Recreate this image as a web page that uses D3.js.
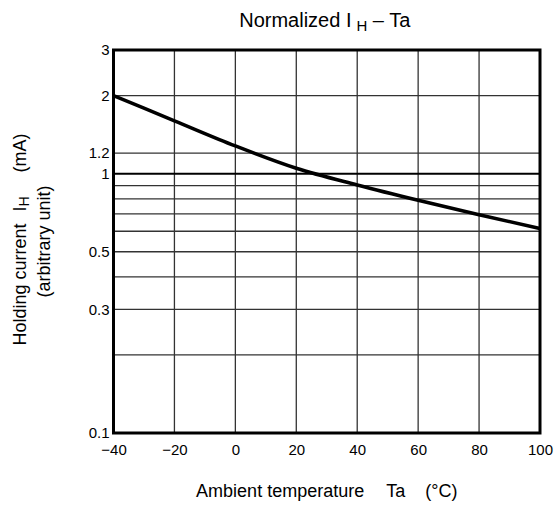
<!DOCTYPE html>
<html>
<head>
	<meta charset="utf-8">
	<title></title>
	<script src="https://d3js.org/d3.v7.min.js"></script>
	<style>
		body {
			margin: 0;
			background: #fff;
		}
		text {
			font-family: "Liberation Sans", Arial, sans-serif;
			fill: #000;
		}
		.axis .domain {
			display: none;
		}
		.axis text {
			font-size: 15px;
		}
		.grid line {
			stroke: #333;
			stroke-width: 1.3;
		}
	</style>
</head>
<body>
	<svg width="559" height="506"></svg>
<script type="text/javascript">

	// curve
	var temps = [-40, -20, 0, 20, 40, 60, 80, 100];
	var holding = [2.0, 1.6, 1.28, 1.05, 0.905, 0.79, 0.695, 0.615];

	var xTicks = [-40, -20, 0, 20, 40, 60, 80, 100];
	var yTicks = [0.1, 0.3, 0.5, 1, 1.2, 2, 3];
	var yGrid = [0.2, 0.3, 0.4, 0.5, 0.6, 0.7, 0.8, 0.9, 1.2, 2];

	var svg = d3.select("svg"),
		margin = {top: 50, right: 19, bottom: 73, left: 113.5},
		width = +svg.attr("width") - margin.left - margin.right,
		height = +svg.attr("height") - margin.top - margin.bottom,
		g = svg.append("g").attr("transform", "translate(" + margin.left + "," + margin.top + ")");

	var x = d3.scaleLinear()
		.domain([-40, 100])
		.range([0, width]);

	var y = d3.scaleLog()
		.domain([0.1, 3])
		.range([height, 0]);

	var grid = g.append("g").attr("class", "grid");

	grid.selectAll(".vline")
		.data(xTicks.slice(1, -1))
		.enter().append("line")
		.attr("class", "vline")
		.attr("x1", function(d) { return x(d); })
		.attr("x2", function(d) { return x(d); })
		.attr("y1", 0)
		.attr("y2", height);

	grid.selectAll(".hline")
		.data(yGrid)
		.enter().append("line")
		.attr("class", "hline")
		.attr("x1", 0)
		.attr("x2", width)
		.attr("y1", function(d) { return y(d); })
		.attr("y2", function(d) { return y(d); });

	// the 1 line is heavier
	g.append("line")
		.attr("x1", 0)
		.attr("x2", width)
		.attr("y1", y(1))
		.attr("y2", y(1))
		.attr("stroke", "#000")
		.attr("stroke-width", 2);

	var line = d3.line()
		.x(function(d, i) { return x(temps[i]); })
		.y(function(d) { return y(d); })
		.curve(d3.curveMonotoneX);

	g.append("path")
		.datum(holding)
		.attr("fill", "none")
		.attr("stroke", "#000")
		.attr("stroke-width", 3.5)
		.attr("d", line);

	// frame
	g.append("rect")
		.attr("width", width)
		.attr("height", height)
		.attr("fill", "none")
		.attr("stroke", "#000")
		.attr("stroke-width", 3);

	g.append("g")
		.attr("class", "axis")
		.call(d3.axisLeft(y).tickValues(yTicks).tickSize(0).tickPadding(4)
			.tickFormat(function(d) { return d; }));

	g.append("g")
		.attr("class", "axis")
		.attr("transform", "translate(0," + height + ")")
		.call(d3.axisBottom(x).tickValues(xTicks).tickSize(0).tickPadding(11));

	// title
	var title = svg.append("text")
		.attr("x", margin.left + width / 2 - 2)
		.attr("y", 26.7)
		.attr("text-anchor", "middle")
		.attr("font-size", 20);
	title.append("tspan").text("Normalized I");
	title.append("tspan").attr("dx", 5).attr("dy", 4).attr("font-size", 15).text("H");
	title.append("tspan").attr("dy", -4).text(" \u2013 Ta");

	// x label
	var xlab = svg.append("text")
		.attr("x", margin.left + width / 2)
		.attr("y", 496.5)
		.attr("text-anchor", "middle")
		.attr("font-size", 18);
	xlab.append("tspan").text("Ambient temperature");
	xlab.append("tspan").attr("dx", 22).text("Ta");
	xlab.append("tspan").attr("dx", 20).text("(\u00b0C)");

	// y label, two lines
	var cy = margin.top + height / 2;
	var ylab = svg.append("text")
		.attr("transform", "translate(26," + (cy - 2) + ") rotate(-90)")
		.attr("text-anchor", "middle")
		.attr("font-size", 18);
	ylab.append("tspan").text("Holding current");
	ylab.append("tspan").attr("dx", 12).text("I");
	ylab.append("tspan").attr("dy", 3).attr("font-size", 14).text("H");
	ylab.append("tspan").attr("dx", 24).attr("dy", -3).text("(mA)");

	svg.append("text")
		.attr("transform", "translate(50," + cy + ") rotate(-90)")
		.attr("text-anchor", "middle")
		.attr("font-size", 18)
		.text("(arbitrary unit)");

</script>
</body>
</html>
